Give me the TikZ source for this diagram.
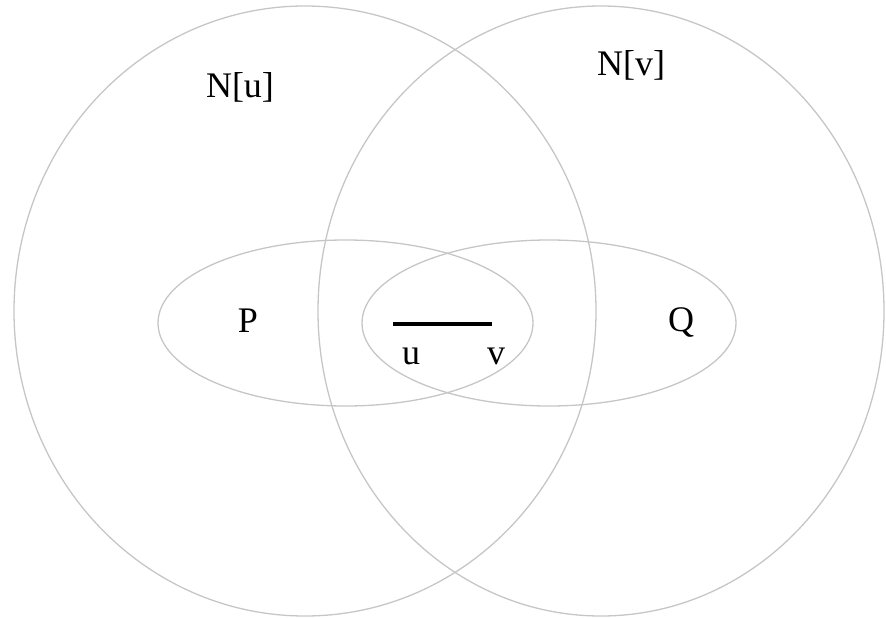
\documentclass[tikz,border=0pt]{standalone}
\usepackage{fontspec}
\setmainfont{Liberation Serif}
\definecolor{setgray}{RGB}{198,198,198}
\begin{document}
\begin{tikzpicture}[x=1pt,y=-1pt,
  set/.style={draw=setgray, line width=1.3pt},
  lab/.style={font=\fontsize{36}{40}\selectfont, inner sep=0pt, anchor=base, text=black},
  edgeline/.style={draw=black, line width=3.6pt}]
\useasboundingbox (0,0) rectangle (886,618);
% neighbourhoods
\draw[set] (305,311) ellipse [x radius=291, y radius=305];
\draw[set] (601,311) ellipse [x radius=283, y radius=305];
% P and Q
\draw[set] (345.5,323) ellipse [x radius=187.5, y radius=83];
\draw[set] (549,323) ellipse [x radius=187, y radius=83];
% labels
\node[lab] (Nu) at (240,97) {N[u]};
\node[lab] (Nv) at (631,75) {N[v]};
\node[lab] (P) at (248,332) {P};
\node[lab] (Q) at (681,331) {Q};
\node[lab] (u) at (411,364) {u};
\node[lab] (v) at (496,364) {v};
% edge uv
\coordinate (ue) at (393,324);
\coordinate (ve) at (492,324);
\draw[edgeline] (ue) -- (ve);
\end{tikzpicture}
\end{document}
